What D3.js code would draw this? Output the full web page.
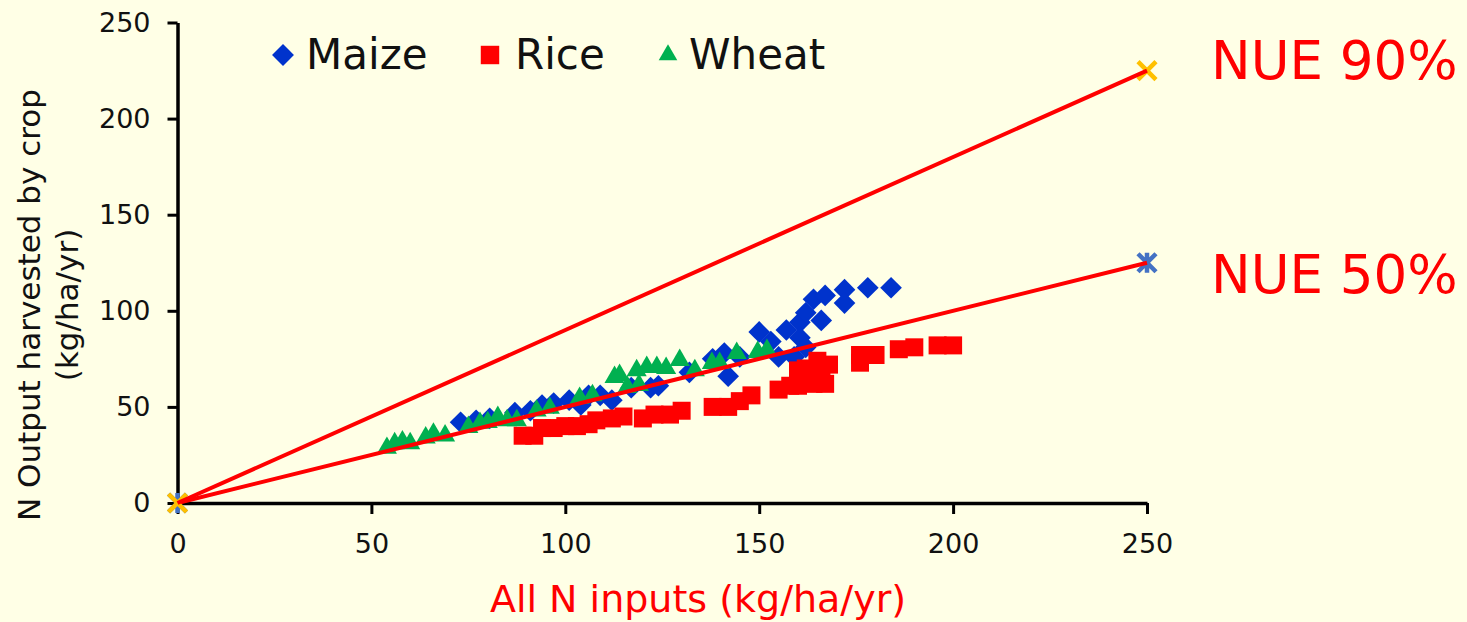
<!DOCTYPE html>
<html>
<head>
<meta charset="utf-8">
<script src="https://cdn.jsdelivr.net/npm/d3@7"></script>
<style>
	body { margin: 0; background: #FFFFE6; }
	#chart-area { width: 1467px; height: 622px; }
	text { font-family: "DejaVu Sans", Verdana, sans-serif; }
</style>
</head>
<body>
<div id="chart-area"></div>
<script>

// N input (x) vs N output harvested (y)
let maizeData = [
	[73, 42], [77, 43], [80.5, 44], [87, 47], [91, 48], [94, 51], [97, 52], [101, 53.5],
	[104, 51], [106, 56], [109, 56], [112, 53.5], [117, 60], [122, 60], [124, 61], [132, 68],
	[138, 75], [141, 78], [142, 66], [145, 76], [150, 89], [153, 84], [155, 76], [157, 90],
	[159, 76], [160.5, 94], [160.5, 86], [162, 81], [162, 99], [164, 106], [166, 95],
	[167, 108], [172, 111], [172, 104], [178, 112], [184, 112]
];

let riceData = [
	[89, 35], [92, 35], [94, 39], [97, 39], [100, 40], [103, 40], [106, 41], [108, 43],
	[112, 44], [115, 45], [120, 44], [123, 46], [127, 46], [130, 48], [138, 50], [142, 50],
	[145, 53], [148, 56], [155, 59], [158, 61], [160, 61], [160, 69], [161, 63], [162, 70],
	[163, 68], [164, 62], [165, 74], [166, 65], [166, 67], [167, 62], [168, 72], [176, 73],
	[176, 77], [180, 77], [186, 80], [190, 81], [196, 82], [200, 82]
];

let wheatData = [
	[54, 28.6], [56, 31], [58, 32], [60, 31], [64, 34], [66, 36], [69, 35], [75, 39.5],
	[78, 41.6], [80, 42], [82.6, 44.7], [85, 43], [87.5, 43], [92.6, 48], [96, 49.4],
	[103.7, 54.6], [107, 56], [112.7, 65.5], [114, 66.5], [116, 60.3], [119, 61.3],
	[118.4, 69], [121, 70.7], [123.6, 70.7], [126, 70.2], [129.5, 74.3], [133.4, 69],
	[137.8, 72.8], [139.8, 72.8], [144.2, 78], [149.6, 78.5], [152, 79.5]
];

let nue50Line = [[0, 0], [250, 125]];
let nue90Line = [[0, 0], [250, 225]];

let cropNames = ["Maize", "Rice", "Wheat"];
let xTicks = [0, 50, 100, 150, 200, 250];
let yTicks = [0, 50, 100, 150, 200, 250];


class NueScatter {

	constructor(parentElement){
		this.parentElement = parentElement;
		this.initVis();
	}

	initVis(){
		let vis = this;

		vis.width = 1467;
		vis.height = 622;

		vis.svg = d3.select("#" + vis.parentElement).append("svg")
			.attr("width", vis.width)
			.attr("height", vis.height);

		vis.svg.append("rect")
			.attr("width", vis.width)
			.attr("height", vis.height)
			.attr("fill", "#FFFFE6");

		// Scales
		vis.x = d3.scaleLinear()
			.domain([0, 250])
			.range([177.5, 1147]);

		vis.y = d3.scaleLinear()
			.domain([0, 250])
			.range([503, 22.5]);

		// Axes
		vis.xAxis = d3.axisBottom(vis.x)
			.tickValues(xTicks)
			.tickSizeInner(11)
			.tickSizeOuter(0)
			.tickPadding(20);

		vis.yAxis = d3.axisLeft(vis.y)
			.tickValues(yTicks)
			.tickSizeInner(10)
			.tickSizeOuter(0)
			.tickPadding(17);

		let gx = vis.svg.append("g")
			.attr("transform", "translate(0," + vis.y(0) + ")")
			.call(vis.xAxis);

		let gy = vis.svg.append("g")
			.attr("transform", "translate(" + vis.x(0) + ",0)")
			.call(vis.yAxis);

		[gx, gy].forEach(g => {
			g.select(".domain").attr("stroke", "#000").attr("stroke-width", 3.5);
			g.selectAll(".tick line").attr("stroke", "#000").attr("stroke-width", 3);
			g.selectAll(".tick text")
				.attr("fill", "#111")
				.style("font-size", "27px")
				.style("font-family", "'DejaVu Sans', Verdana, sans-serif");
		});

		// Axis titles
		vis.svg.append("text")
			.attr("x", 698)
			.attr("y", 612)
			.attr("text-anchor", "middle")
			.attr("fill", "#FF0000")
			.style("font-size", "38px")
			.text("All N inputs (kg/ha/yr)");

		let yTitle = vis.svg.append("text")
			.attr("transform", "translate(40,305) rotate(-90)")
			.attr("text-anchor", "middle")
			.attr("fill", "#111")
			.style("font-size", "31px");
		yTitle.append("tspan").attr("x", 0).attr("y", 0).text("N Output harvested by crop");
		yTitle.append("tspan").attr("x", 0).attr("y", 38).text("(kg/ha/yr)");

		// Scatter symbols
		vis.symbols = {
			Maize: { path: d3.symbol().type(d3.symbolSquare).size(235)(), rotate: 45, color: "#0033CC" },
			Rice: { path: d3.symbol().type(d3.symbolSquare).size(324)(), rotate: 0, color: "#FF0000" },
			Wheat: { path: d3.symbol().type(d3.symbolTriangle).size(175)(), rotate: 0, color: "#00B050" }
		};
		vis.legendSymbols = {
			Maize: d3.symbol().type(d3.symbolSquare).size(240)(),
			Rice: d3.symbol().type(d3.symbolSquare).size(340)(),
			Wheat: d3.symbol().type(d3.symbolTriangle).size(150)()
		};

		let cropData = { Maize: maizeData, Rice: riceData, Wheat: wheatData };

		cropNames.forEach(name => {
			let s = vis.symbols[name];
			vis.svg.append("g")
				.selectAll("path")
				.data(cropData[name])
				.enter()
				.append("path")
				.attr("d", s.path)
				.attr("fill", s.color)
				.attr("transform", d => "translate(" + vis.x(d[0]) + "," + vis.y(d[1]) + ") rotate(" + s.rotate + ")");
		});

		// NUE reference lines
		vis.line = d3.line()
			.x(d => vis.x(d[0]))
			.y(d => vis.y(d[1]));

		vis.drawNue(nue50Line, "asterisk", "#4472C4");
		vis.drawNue(nue90Line, "cross", "#FFC000");

		vis.svg.append("text")
			.attr("x", 1211)
			.attr("y", 79)
			.attr("fill", "#FF0000")
			.style("font-size", "53px")
			.text("NUE 90%");

		vis.svg.append("text")
			.attr("x", 1211)
			.attr("y", 293)
			.attr("fill", "#FF0000")
			.style("font-size", "53px")
			.text("NUE 50%");

		// Legend
		let legendX = [283, 490, 668];
		let legendTextX = [306, 515, 689];
		cropNames.forEach((name, i) => {
			let s = vis.symbols[name];
			vis.svg.append("path")
				.attr("d", vis.legendSymbols[name])
				.attr("fill", s.color)
				.attr("transform", "translate(" + legendX[i] + ",55) rotate(" + s.rotate + ")");
			vis.svg.append("text")
				.attr("x", legendTextX[i])
				.attr("y", 69)
				.attr("fill", "#111")
				.style("font-size", "42px")
				.text(name);
		});
	}

	drawNue(data, markerType, markerColor){
		let vis = this;

		data.forEach(d => {
			let p = d3.path();
			let r = 9;
			let cx = vis.x(d[0]), cy = vis.y(d[1]);
			p.moveTo(cx - r, cy - r); p.lineTo(cx + r, cy + r);
			p.moveTo(cx - r, cy + r); p.lineTo(cx + r, cy - r);
			if (markerType === "asterisk") {
				p.moveTo(cx, cy - r - 1); p.lineTo(cx, cy + r + 1);
			}
			vis.svg.append("path")
				.attr("d", p.toString())
				.attr("stroke", markerColor)
				.attr("stroke-width", 4.5)
				.attr("fill", "none");
		});

		vis.svg.append("path")
			.datum(data)
			.attr("d", vis.line)
			.attr("fill", "none")
			.attr("stroke", "#FF0000")
			.attr("stroke-width", 4);
	}
}

new NueScatter("chart-area");

</script>
</body>
</html>
